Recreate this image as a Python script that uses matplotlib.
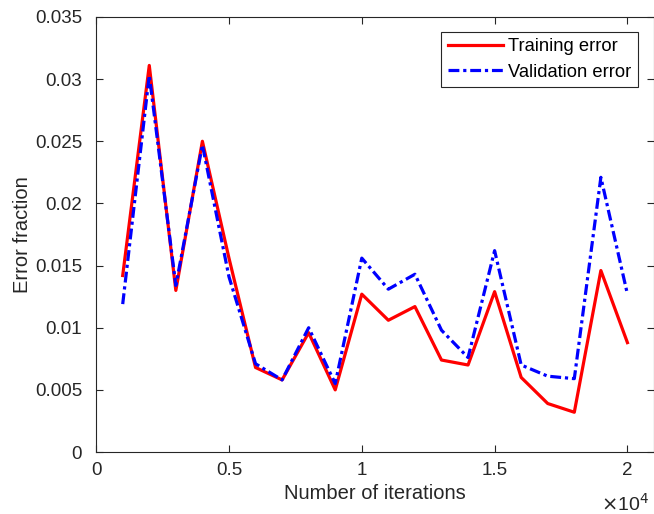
import matplotlib
matplotlib.use("Agg")
import matplotlib.pyplot as plt
from matplotlib.ticker import FixedLocator, FixedFormatter

plt.rcParams['font.family'] = ['Liberation Sans', 'DejaVu Sans']

iterations = [1000, 2000, 3000, 4000, 5000, 6000, 7000, 8000, 9000, 10000,
              11000, 12000, 13000, 14000, 15000, 16000, 17000, 18000, 19000, 20000]
training_error = [0.0142, 0.0311, 0.0130, 0.0250, 0.0156, 0.0068, 0.0058, 0.0096, 0.0050, 0.0127,
                  0.0106, 0.0117, 0.0074, 0.0070, 0.0129, 0.0060, 0.0039, 0.0032, 0.0146, 0.0088]
validation_error = [0.0119, 0.0303, 0.0134, 0.0247, 0.0141, 0.0071, 0.0058, 0.0100, 0.0055, 0.0156,
                    0.0131, 0.0143, 0.0098, 0.0076, 0.0162, 0.0070, 0.0061, 0.0059, 0.0221, 0.0127]
x_ticks = [0, 5000, 10000, 15000, 20000]
x_tick_labels = ['0', '0.5', '1', '1.5', '2']
y_ticks = [0, 0.005, 0.01, 0.015, 0.02, 0.025, 0.03, 0.035]
y_tick_labels = ['0', '0.005', '0.01', '0.015', '0.02', '0.025', '0.03', '0.035']

fig = plt.figure(figsize=(6.54, 5.14), dpi=100)
ax = fig.add_axes([0.147, 0.1206, 0.853, 0.8464])

ax.plot(iterations, training_error, color='#ff0000', lw=2.3, label='Training error')
ax.plot(iterations, validation_error, color='#0000ff', lw=2.3, ls=(0, (3.4, 1.2, 1.0, 1.2)),
        label='Validation error')

ax.set_xlim(0, 21000)
ax.set_ylim(0, 0.035)
ax.xaxis.set_major_locator(FixedLocator(x_ticks))
ax.xaxis.set_major_formatter(FixedFormatter(x_tick_labels))
ax.yaxis.set_major_locator(FixedLocator(y_ticks))
ax.yaxis.set_major_formatter(FixedFormatter(y_tick_labels))

axcol = '#262626'
for s in ax.spines.values():
    s.set_color(axcol)
    s.set_linewidth(0.8)
ax.tick_params(direction='in', top=True, right=True, length=5, width=0.8,
               color=axcol, labelcolor=axcol, labelsize=13.5)
ax.tick_params(axis='x', pad=7)
ax.tick_params(axis='y', pad=10)

ax.set_xlabel('Number of iterations', fontsize=14.5, color=axcol, labelpad=4)
ax.set_ylabel('Error fraction', fontsize=14.5, color=axcol, labelpad=2)

fig.text(0.919, 0.006, r'$\times$10$^{4}$', fontsize=14, color=axcol, va='baseline')

leg = ax.legend(loc='upper right', bbox_to_anchor=(0.971, 0.9655), fontsize=13.2,
                frameon=True, fancybox=False, edgecolor=axcol, framealpha=1,
                handlelength=3.0, borderpad=0.35, labelspacing=0.45, handletextpad=0.3,
                borderaxespad=0)
leg.get_frame().set_linewidth(0.8)

fig.savefig('out.png', dpi=100)
